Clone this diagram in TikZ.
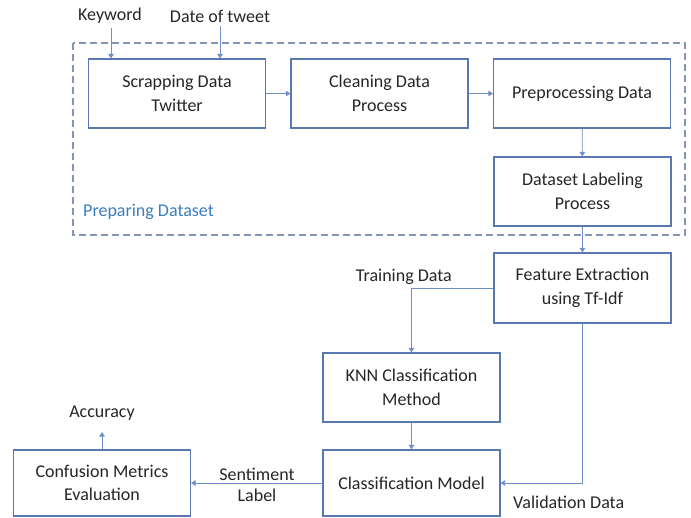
\documentclass[tikz,border=0pt]{standalone}
\usepackage{fontspec}
\setmainfont{Carlito}
\usetikzlibrary{arrows.meta}
\definecolor{boxc}{HTML}{5A78B0}
\definecolor{linec}{HTML}{6F8FC8}
\definecolor{dashc}{HTML}{8496B4}
\definecolor{txtc}{HTML}{262626}
\definecolor{prepc}{HTML}{3A7DC0}
\tikzset{
  stepbox/.style={draw=boxc, line width=1.1pt, fill=white, text=txtc, minimum width=177pt, minimum height=69pt, align=center, inner sep=2pt, font=\fontsize{18}{23.5}\selectfont},
  lbl/.style={text=txtc, align=center, inner sep=1pt, font=\fontsize{18}{21}\selectfont},
  conn/.style={draw=linec, line width=0.8pt, -{Triangle[width=5.5pt,length=4.5pt]}},
  plain/.style={draw=linec, line width=0.8pt}
}
\begin{document}
\begin{tikzpicture}[x=1pt,y=-1pt]
\useasboundingbox (0,0) rectangle (691,517);
% dashed group
\draw[dashc, line width=1.2pt, dash pattern=on 7pt off 4pt] (73,43) rectangle (685,235);
\node[anchor=west, text=prepc, inner sep=0pt, font=\fontsize{18}{21}\selectfont] (prepds) at (83,212) {Preparing Dataset};
% boxes
\node[stepbox] (scrap) at (177,93.5) {Scrapping Data\\Twitter};
\node[stepbox] (clean) at (379.5,93.5) {Cleaning Data\\Process};
\node[stepbox] (prep) at (582,93.5) {Preprocessing Data};
\node[stepbox] (label) at (582.5,191.5) {Dataset Labeling\\Process};
\node[stepbox, minimum height=70pt] (feat) at (582.5,288) {Feature Extraction\\using Tf-Idf};
\node[stepbox] (knn) at (411.5,387.5) {KNN Classification\\Method};
\node[stepbox, minimum height=66pt] (cmodel) at (411.5,483) {Classification Model};
\node[stepbox, minimum height=66pt] (conf) at (102,483) {Confusion Metrics\\Evaluation};
% input labels
\node[lbl] (kw) at (110,16) {Keyword};
\node[lbl] (date) at (220,16) {Date of tweet};
\draw[conn] (kw.south -| 111,0) ++(0,3) -- (111,0 |- scrap.north);
\draw[conn] (date.south) ++(0,3) -- (date.south |- scrap.north);
% flow
\draw[conn] (scrap) -- (clean);
\draw[conn] (clean) -- (prep);
\draw[conn] (prep) -- (label);
\draw[conn] (label) -- (feat);
\draw[conn] (feat.west) -| (knn.north);
\node[lbl, anchor=east] (train) at (453,277) {Training Data};
\draw[conn] (knn) -- (cmodel);
\draw[conn] (feat.south) |- (cmodel.east);
\node[lbl, anchor=west] (valid) at (512,502) {Validation Data};
\draw[conn] (cmodel.west) -- (conf.east);
\node[lbl] (sent) at (257,485) {Sentiment\\Label};
\coordinate (acc) at (102,432);
\draw[conn] (conf.north) -- (acc);
\node[lbl] (acctxt) at (102,413) {Accuracy};
\end{tikzpicture}
\end{document}
